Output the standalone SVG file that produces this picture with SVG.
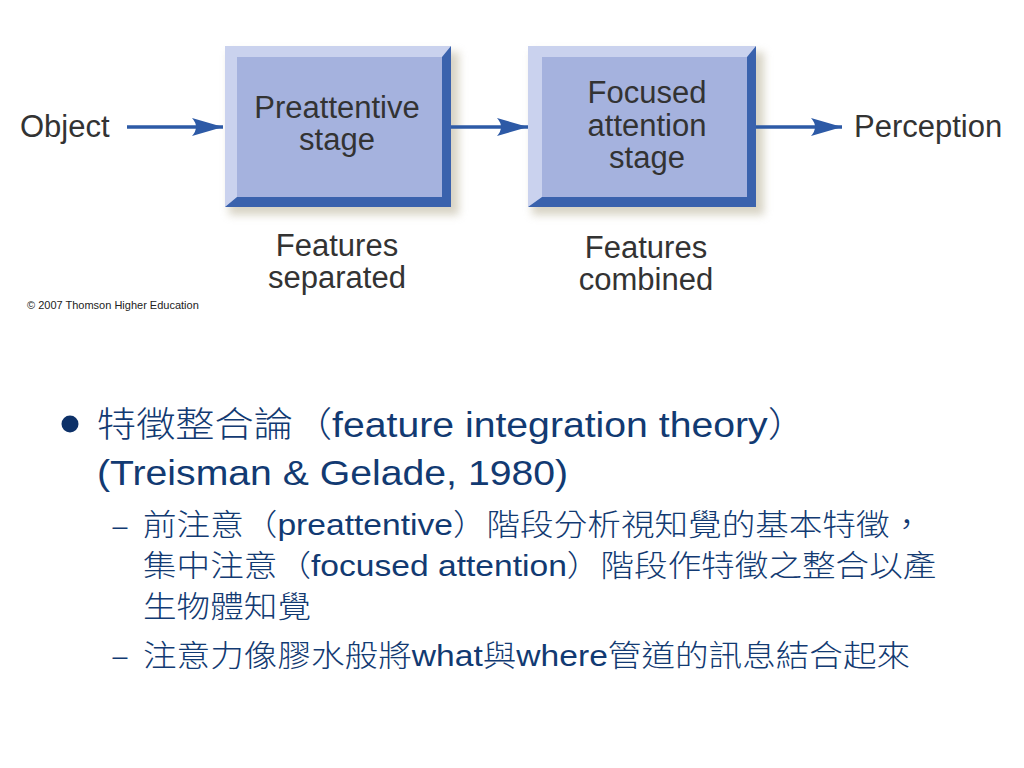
<svg xmlns="http://www.w3.org/2000/svg" width="1024" height="768" viewBox="0 0 1024 768">
  <style>
    .lbl { font-family: "Liberation Sans", Arial, sans-serif; font-size: 31px; fill: #333333; text-anchor: middle; }
    .lbll { font-family: "Liberation Sans", Arial, sans-serif; font-size: 31px; fill: #333333; }
    .face { fill: #a5b2de; }
    .light { fill: #cad2ee; }
    .dark { fill: #3a62ad; }
    .conn { stroke: #2d5aa6; stroke-width: 3.5; fill: none; }
    .body { font-family: "Liberation Sans", Arial, "Noto Sans CJK TC", sans-serif; fill: #123a72; }
    .cj { font-family: "Noto Sans CJK TC", sans-serif; font-weight: 300; }
    .b1 { font-size: 35px; }
    .b2 { font-size: 30px; }
    .dash { font-size: 24px; }
  </style>
  <defs>
    <marker id="arrow" markerUnits="userSpaceOnUse" markerWidth="34" markerHeight="22" viewBox="-1 -11 34 22" refX="31" refY="0" orient="auto">
      <path d="M0,-9 L31,0 L0,9 Q8,0 0,-9 Z" fill="#2d5aa6"/>
    </marker>
    <filter id="shadow" x="-10%" y="-10%" width="130%" height="140%">
      <feGaussianBlur stdDeviation="4"/>
    </filter>
  </defs>
  <rect width="1024" height="768" fill="#ffffff"/>

  <g id="object">
    <text class="lbll" x="20" y="137">Object</text>
  </g>

  <g id="preattentive-stage">
    <rect x="229" y="52" width="230" height="163" fill="#b8b096" opacity="0.55" filter="url(#shadow)"/>
    <rect class="dark" x="225" y="46" width="226" height="161"/>
    <polygon class="light" points="225,46 451,46 442,57 237,57 237,197 225,207"/>
    <rect class="face" x="237" y="57" width="205" height="140"/>
    <text class="lbl" x="337" y="118">Preattentive</text>
    <text class="lbl" x="337" y="150">stage</text>
  </g>

  <g id="focused-attention-stage">
    <rect x="532" y="52" width="232" height="163" fill="#b8b096" opacity="0.55" filter="url(#shadow)"/>
    <rect class="dark" x="528" y="46" width="228" height="161"/>
    <polygon class="light" points="528,46 756,46 747,57 542,57 542,197 528,207"/>
    <rect class="face" x="542" y="57" width="205" height="140"/>
    <text class="lbl" x="647" y="103">Focused</text>
    <text class="lbl" x="647" y="136">attention</text>
    <text class="lbl" x="647" y="168">stage</text>
  </g>

  <g id="perception">
    <text class="lbll" x="854" y="137">Perception</text>
  </g>

  <g id="connectors">
    <line class="conn" x1="127" y1="127" x2="223" y2="127" marker-end="url(#arrow)"/>
    <line class="conn" x1="451" y1="127" x2="528" y2="127" marker-end="url(#arrow)"/>
    <line class="conn" x1="756" y1="127" x2="842" y2="127" marker-end="url(#arrow)"/>
  </g>

  <g id="stage-notes">
    <text class="lbl" x="337" y="256">Features</text>
    <text class="lbl" x="337" y="288">separated</text>
    <text class="lbl" x="646" y="258">Features</text>
    <text class="lbl" x="646" y="290">combined</text>
  </g>

  <g id="copyright">
    <text x="27" y="309" font-family="Liberation Sans, Arial, sans-serif" font-size="11" fill="#222222">© 2007 Thomson Higher Education</text>
  </g>

  <g id="bullets">
    <circle cx="70" cy="424" r="8.5" fill="#0d3168"/>
    <g transform="scale(1.12,1)">
      <text class="body b1" x="86.6" y="437"><tspan class="cj">特徵整合論（</tspan>feature integration theory<tspan class="cj">）</tspan></text>
      <text class="body b1" x="86.6" y="485">(Treisman &amp; Gelade, 1980)</text>
      <text class="body dash" x="100.5" y="534">–</text>
      <text class="body b2" x="127.7" y="535"><tspan class="cj">前注意（</tspan>preattentive<tspan class="cj">）階段分析視知覺的基本特徵，</tspan></text>
      <text class="body b2" x="127.7" y="576"><tspan class="cj">集中注意（</tspan>focused attention<tspan class="cj">）階段作特徵之整合以產</tspan></text>
      <text class="body b2" x="127.7" y="617"><tspan class="cj">生物體知覺</tspan></text>
      <text class="body dash" x="100.5" y="664">–</text>
      <text class="body b2" x="127.7" y="666"><tspan class="cj">注意力像膠水般將</tspan>what<tspan class="cj">與</tspan>where<tspan class="cj">管道的訊息結合起來</tspan></text>
    </g>
  </g>
</svg>
